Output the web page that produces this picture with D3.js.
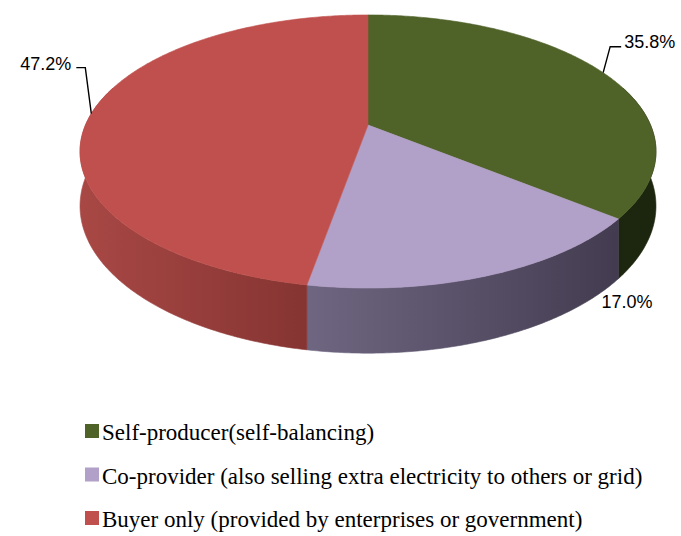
<!DOCTYPE html>
<html>
<head>
<meta charset="utf-8">
<script src="https://cdn.jsdelivr.net/npm/d3@7"></script>
<style>
  html, body { margin: 0; padding: 0; background: #fff; }
  svg { display: block; }
</style>
</head>
<body>
<script>
// ---- data ----
const categories = [
  "Self-producer(self-balancing)",
  "Co-provider (also selling extra electricity to others or grid)",
  "Buyer only (provided by enterprises or government)"
];
const values = [35.8, 17.0, 47.2];
const valueLabels = ["35.8%", "17.0%", "47.2%"];
const topColors = ["#4F6228", "#B1A0C7", "#C0504D"];
const sideColorsLight = ["#222D12", "#6F6681", "#A84845"];
const sideColorsDark = ["#1C250E", "#433C50", "#7C2F2D"];

// ---- layout ----
const W = 681, H = 536;
const cx = 368, cy = 125;      // projected centre of pie
const A = 282.5, B = 131.4;    // radii of projected circle
const k = 0.194;               // perspective strength
const depth = 52.5;            // thickness

const svg = d3.select("body").append("svg")
  .attr("width", W).attr("height", H);
const defs = svg.append("defs");

function proj(theta, r, h) {
  const w = 1 + k * r * Math.cos(theta);
  return [cx + A * r * Math.sin(theta) / w,
          cy + (-B * r * Math.cos(theta) + h) / w];
}

const pie = d3.pie().sort(null).value(d => d.value);
const data = values.map((v, i) => ({value: v, i}));
const arcs = pie(data);

function samples(a0, a1) {
  const n = Math.max(2, Math.ceil((a1 - a0) / 0.01));
  return d3.range(n + 1).map(j => a0 + (a1 - a0) * j / n);
}
const line = d3.line();

// gradients for sides
arcs.forEach((a, i) => {
  const xs = samples(a.startAngle, a.endAngle).map(t => proj(t, 1, 0)[0]);
  const g = defs.append("linearGradient")
    .attr("id", "side" + i)
    .attr("gradientUnits", "userSpaceOnUse")
    .attr("x1", d3.min(xs)).attr("x2", d3.max(xs))
    .attr("y1", 0).attr("y2", 0);
  g.append("stop").attr("offset", 0).attr("stop-color", sideColorsLight[i]);
  g.append("stop").attr("offset", 1).attr("stop-color", sideColorsDark[i]);
});

// sides (only the front half is visible anyway)
const sides = svg.append("g");
arcs.forEach((a, i) => {
  const lo = Math.max(a.startAngle, Math.PI / 2 - 0.3);
  const hi = Math.min(a.endAngle, 3 * Math.PI / 2 + 0.3);
  if (hi <= lo) return;
  const ts = samples(lo, hi);
  const topPts = ts.map(t => proj(t, 1, 0));
  const botPts = ts.slice().reverse().map(t => proj(t, 1, depth));
  sides.append("path")
    .attr("d", line(topPts.concat(botPts)) + "Z")
    .attr("fill", `url(#side${i})`)
    .attr("stroke", `url(#side${i})`)
    .attr("stroke-width", 0.6);
});

// tops
const tops = svg.append("g");
arcs.forEach((a, i) => {
  const pts = [[cx, cy]].concat(samples(a.startAngle, a.endAngle).map(t => proj(t, 1, 0)));
  tops.append("path")
    .attr("d", line(pts) + "Z")
    .attr("fill", topColors[i])
    .attr("stroke", topColors[i])
    .attr("stroke-width", 0.6)
    .attr("stroke-linejoin", "round");
});

// labels
const lab = svg.append("g")
  .attr("font-family", "'Liberation Sans', Arial, sans-serif")
  .attr("font-size", 18)
  .attr("fill", "#000");

function midAngle(a) { return (a.startAngle + a.endAngle) / 2; }

// green (35.8%) with leader
{
  const a = arcs[0];
  const p = proj(midAngle(a), 1, 0);
  const elbow = [p[0] + 7, p[1] - 26];
  const end = [p[0] + 18, p[1] - 26];
  lab.append("path").attr("d", line([p, elbow, end]))
    .attr("fill", "none").attr("stroke", "#000").attr("stroke-width", 1.4);
  lab.append("text").attr("x", end[0] + 3).attr("y", end[1] + 1)
    .text(valueLabels[0]);
}
// purple (17.0%) no leader, placed below right
{
  const a = arcs[1];
  const p = proj(a.startAngle, 1, depth);
  lab.append("text").attr("x", p[0] - 17).attr("y", p[1] + 29)
    .text(valueLabels[1]);
}
// red (47.2%) with leader
{
  const a = arcs[2];
  const p = proj(midAngle(a), 1, 0);
  const elbow = [p[0] - 6, p[1] - 46];
  const end = [p[0] - 15, p[1] - 46];
  lab.append("path").attr("d", line([p, elbow, end]))
    .attr("fill", "none").attr("stroke", "#000").attr("stroke-width", 1.4);
  lab.append("text").attr("x", end[0] - 5).attr("y", end[1] + 2)
    .attr("text-anchor", "end")
    .text(valueLabels[2]);
}

// legend
const legend = svg.append("g")
  .attr("font-family", "'Liberation Serif', 'Times New Roman', serif")
  .attr("font-size", 23)
  .attr("fill", "#000");
const rowY = d3.scalePoint().domain(d3.range(categories.length)).range([440, 527]);
categories.forEach((c, i) => {
  const y = rowY(i);
  legend.append("rect").attr("x", 85).attr("y", y - 16).attr("width", 14).attr("height", 14)
    .attr("fill", topColors[i]);
  legend.append("text").attr("x", 102).attr("y", y).text(c);
});
</script>
</body>
</html>
